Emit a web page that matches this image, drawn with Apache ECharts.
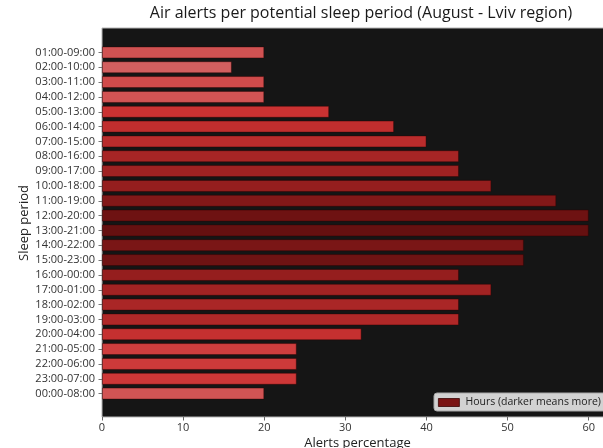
<!DOCTYPE html>
<html>
<head>
<meta charset="utf-8">
<script src="https://cdn.jsdelivr.net/npm/echarts@6/dist/echarts.min.js"></script>
<style>
html,body{margin:0;padding:0;background:#fff;}
#chart{width:603px;height:448px;}
</style>
</head>
<body>
<div id="chart"></div>
<script>
// Sleep periods (categories)
const periods = [
  '01:00-09:00','02:00-10:00','03:00-11:00','04:00-12:00','05:00-13:00','06:00-14:00',
  '07:00-15:00','08:00-16:00','09:00-17:00','10:00-18:00','11:00-19:00','12:00-20:00',
  '13:00-21:00','14:00-22:00','15:00-23:00','16:00-00:00','17:00-01:00','18:00-02:00',
  '19:00-03:00','20:00-04:00','21:00-05:00','22:00-06:00','23:00-07:00','00:00-08:00'
];
// Alerts percentage per period
const alertsPct = [20,16,20,20,28,36,40,44,44,48,56,60,60,52,52,44,48,44,44,32,24,24,24,20];
// Relative alert hours (drives darkness, estimated from bar shade)
const alertHours = [11,5,14,10,27,36,41,56,62,69,81,93,98,86,92,69,60,54,50,31,20,22,23,10];
// X-axis ticks
const xTicks = [0,10,20,30,40,50,60];

const legendName = 'Hours (darker means more)';
const chart = echarts.init(document.getElementById('chart'), null, {renderer:'canvas'});
const font = '"Open Sans", "DejaVu Sans", sans-serif';
const xMax = 63;

chart.setOption({
  animation: false,
  backgroundColor: '#ffffff',
  title: {
    text: 'Air alerts per potential sleep period (August - Lviv region)',
    left: 356, top: 0, textAlign: 'center',
    textStyle: {fontFamily: font, fontSize: 16, fontWeight: 'normal', color: '#1a1a1a'}
  },
  grid: [
    {left: 102, top: 28, width: 511, height: 389, show: true, backgroundColor: '#151515',
     borderColor: '#b5b5b5', borderWidth: 1, containLabel: false, outerBoundsMode: 'none'},
    {left: 102, top: 45, width: 511, height: 356, containLabel: false, outerBoundsMode: 'none'}
  ],
  xAxis: [
    {
      gridIndex: 0, type: 'value', min: 0, max: xMax, interval: 10,
      name: 'Alerts percentage', nameLocation: 'middle', nameGap: 20, nameMoveOverlap: false,
      nameTextStyle: {fontFamily: font, fontSize: 13, color: '#222'},
      axisLine: {show: false},
      axisTick: {show: true, length: 3.5, lineStyle: {color: '#666'}, customValues: xTicks},
      axisLabel: {fontFamily: font, fontSize: 11, color: '#333', margin: 5, customValues: xTicks,
        formatter: v => (xTicks.indexOf(v) >= 0 ? String(v) : '')},
      splitLine: {show: false}
    },
    {gridIndex: 1, type: 'value', min: 0, max: xMax, show: false}
  ],
  yAxis: [
    {gridIndex: 0, type: 'value', min: 0, max: 1, show: false},
    {
      gridIndex: 1, type: 'category', data: periods, inverse: true,
      name: 'Sleep period', nameLocation: 'middle', nameGap: 71, nameRotate: 90, nameMoveOverlap: false,
      nameTextStyle: {fontFamily: font, fontSize: 13, color: '#222'},
      axisLine: {show: false},
      axisTick: {show: true, alignWithLabel: true, length: 3.5, lineStyle: {color: '#777'}},
      axisLabel: {fontFamily: font, fontSize: 11, color: '#333', margin: 7, interval: 0}
    }
  ],
  visualMap: {
    type: 'continuous', show: false, seriesIndex: 0, dimension: 2, min: 0, max: 100,
    inRange: {color: ['#d46a6a', '#cc3333', '#b02828', '#8c1b1b', '#620f0f']}
  },
  legend: {
    data: [{name: legendName, itemStyle: {color: '#7a1414', borderColor: '#3a0505', borderWidth: 0.8}}],
    left: 434, top: 393,
    backgroundColor: '#d2d2d2', borderColor: '#a8a8a8', borderWidth: 1, borderRadius: 3,
    padding: [4, 5, 3, 4], itemWidth: 21, itemHeight: 8, itemGap: 5,
    icon: 'rect',
    textStyle: {fontFamily: font, fontSize: 10.5, color: '#222', padding: [0,0,0,1]}
  },
  series: [{
    name: legendName,
    type: 'bar',
    xAxisIndex: 1, yAxisIndex: 1,
    barWidth: '80%',
    encode: {x: 0, y: 1},
    itemStyle: {borderColor: 'rgba(45,0,0,0.55)', borderWidth: 0.8},
    data: periods.map((p, i) => [alertsPct[i], p, alertHours[i]])
  }]
});
</script>
</body>
</html>
